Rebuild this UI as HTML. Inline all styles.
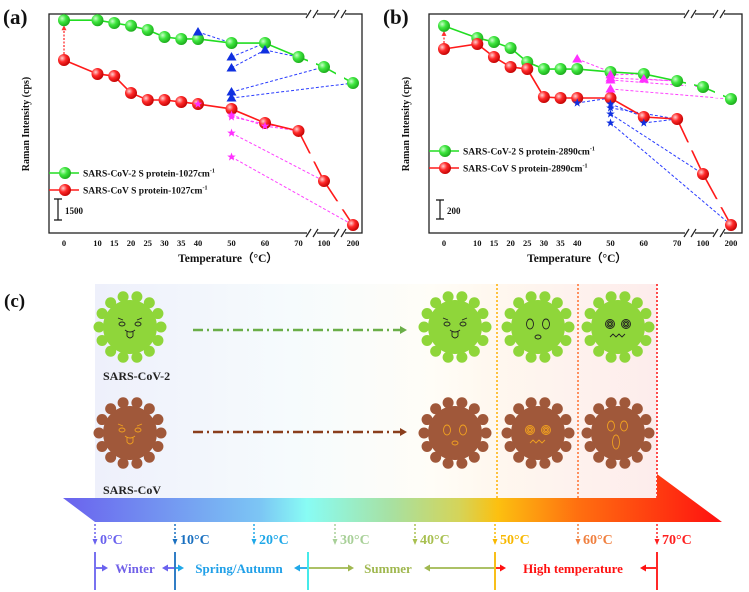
<!DOCTYPE html>
<html><head><meta charset="utf-8"><style>
html,body{margin:0;padding:0;background:#fff;}
svg{display:block;font-family:"Liberation Serif",serif;font-weight:bold;}
</style></head><body>
<svg id="fig" width="749" height="592" viewBox="0 0 749 592" xmlns="http://www.w3.org/2000/svg">
<defs>
<radialGradient id="gG" cx="0.35" cy="0.35" r="0.7"><stop offset="0" stop-color="#c8ffc8"/><stop offset="0.45" stop-color="#3ee63e"/><stop offset="1" stop-color="#1aa81a"/></radialGradient>
<radialGradient id="gR" cx="0.35" cy="0.35" r="0.7"><stop offset="0" stop-color="#ffd0d0"/><stop offset="0.45" stop-color="#ff2a2a"/><stop offset="1" stop-color="#c00000"/></radialGradient>
<linearGradient id="bgC" x1="0" x2="1" y1="0" y2="0">
<stop offset="0" stop-color="#eef0fb"/><stop offset="0.35" stop-color="#f6fbfd"/><stop offset="0.6" stop-color="#fffdf7"/><stop offset="0.7" stop-color="#fff8ef"/><stop offset="1" stop-color="#fdecec"/></linearGradient>
<linearGradient id="barG" x1="63" x2="722" y1="0" y2="0" gradientUnits="userSpaceOnUse">
<stop offset="0" stop-color="#6a62ee"/><stop offset="0.3" stop-color="#7cc6f4"/><stop offset="0.37" stop-color="#88fcf4"/><stop offset="0.5" stop-color="#a8e0a0"/><stop offset="0.6" stop-color="#d4d45a"/><stop offset="0.66" stop-color="#fcc010"/><stop offset="0.78" stop-color="#ff7010"/><stop offset="1" stop-color="#ff1010"/></linearGradient>
</defs>
<g id="panelA"></g>
<g id="panelB"></g>
<g id="panelC"></g>
</svg>
<script>
const NS="http://www.w3.org/2000/svg";
const temps=[0,10,15,20,25,30,35,40,50,60,70,100,200];
const tickLabels=["0","10","15","20","25","30","35","40","50","60","70","100","200"];
// panel (a) values (cps)
const aGreen=[15200,15200,15000,14800,14500,14000,13860,13860,13570,13570,12570,11860,10710];
const aRed=[12360,11360,11210,10000,9500,9500,9360,9210,8860,7860,7290,3710,570];
const aTriT=[40,50,50,50,50,60];
const aTriV=[14360,12570,11790,10070,9640,13070];
const aStarT=[40,50,50,50,50,60];
const aStarV=[9210,8430,8290,7140,5430,7640];
const aBlueLinks=[[40,14360,50,13570],[50,12570,60,13570],[50,11790,60,13070],[60,13070,70,12570],[50,10070,100,11860],[50,9640,200,10710]];
const aMagLinks=[[40,9210,50,8860],[50,8430,60,7640],[50,8290,70,7290],[60,7640,70,7290],[50,7140,100,3710],[50,5430,200,570]];
// panel (b) values (cps)
const bGreen=[2180,2053,2011,1947,1800,1726,1726,1726,1695,1674,1600,1537,1410];
const bRed=[1937,1990,1853,1747,1726,1432,1421,1421,1421,1221,1200,621,84];
const bTriT=[40,50,50,50,50,60];
const bTriV=[1832,1664,1632,1611,1516,1621];
const bStarT=[40,50,50,50,50,60];
const bStarV=[1369,1358,1316,1253,1158,1158];
const bMagLinks=[[40,1832,50,1695],[50,1664,60,1674],[50,1632,70,1600],[60,1621,70,1600],[50,1611,100,1537],[50,1516,200,1410]];
const bBlueLinks=[[40,1369,50,1421],[50,1358,60,1221],[50,1316,70,1200],[60,1158,70,1200],[50,1253,100,621],[50,1158,200,84]];

function mk(p,tag,at,txt){const e=document.createElementNS(NS,tag);for(const k in at)e.setAttribute(k,at[k]);if(txt!==undefined)e.textContent=txt;p.appendChild(e);return e;}

function panel(g,cfg){
  const xs=t=>t<=70?cfg.x0+t*cfg.k:(t===100?cfg.x100:cfg.x200);
  const ys=v=>233-v*cfg.ky;
  const L=cfg.left,R=cfg.right;
  let e=mk(g,'rect',{x:L,y:14,width:R-L,height:219,fill:'none',stroke:'#222','stroke-width':1.3});
  
  [cfg.br1,cfg.br2].forEach(bx=>{[14,233].forEach(by=>{
    mk(g,'rect',{x:bx-5,y:by-2,width:10,height:4,fill:'#fff'});
    e=mk(g,'path',{d:`M${bx-6} ${by+4}L${bx-1} ${by-4}M${bx+1} ${by+4}L${bx+6} ${by-4}`,stroke:'#222','stroke-width':1.2});
    
  });});
  temps.forEach((t,i)=>{
    e=mk(g,'text',{x:xs(t),y:246,'font-size':8.5,'text-anchor':'middle',fill:'#111'},tickLabels[i]);
    
  });
  e=mk(g,'text',{x:cfg.titleX,y:262,'font-size':11.5,'text-anchor':'middle',fill:'#111'},'Temperature（°C）');
  
  e=mk(g,'text',{x:0,y:0,'font-size':10,'text-anchor':'middle',fill:'#111',transform:`translate(${L-20},124) rotate(-90)`},'Raman Intensity (cps)');
  
  e=mk(g,'text',{x:L-46,y:24,'font-size':21,fill:'#111'},cfg.tag);
  
  e=mk(g,'path',{d:`M${xs(0)} ${ys(cfg.red[0])-6}L${xs(0)} ${ys(cfg.green[0])+7}`,stroke:'#ff3030','stroke-width':1.3,'stroke-dasharray':'2,1.5'});
  
  mk(g,'path',{d:`M${xs(0)-2.5} ${ys(cfg.green[0])+10}L${xs(0)} ${ys(cfg.green[0])+5}L${xs(0)+2.5} ${ys(cfg.green[0])+10}Z`,fill:'#ff3030'});
  function links(arr,col,nm){arr.forEach(l=>{e=mk(g,'line',{x1:xs(l[0]),y1:ys(l[1]),x2:xs(l[2]),y2:ys(l[3]),stroke:col,'stroke-width':1,'stroke-dasharray':'3,2'});
    });}
  links(cfg.l1,cfg.l1c,'dashed-link');links(cfg.l2,cfg.l2c,'dashed-link');
  function series(vals,col,grad,nm){
    const pts=vals.map((v,i)=>[xs(temps[i]),ys(v)]);
    e=mk(g,'polyline',{points:pts.map(p=>p.join(',')).join(' '),fill:'none',stroke:col,'stroke-width':1.6});
    
    [[10,11,cfg.br1],[11,12,cfg.br2]].forEach(([a,b,bx])=>{const [x1,y1]=pts[a],[x2,y2]=pts[b];const yy=y1+(y2-y1)*(bx-x1)/(x2-x1);
      mk(g,'rect',{x:bx-4,y:yy-4,width:8,height:8,fill:'#fff'});});
    pts.forEach(p=>{e=mk(g,'circle',{cx:p[0],cy:p[1],r:6,fill:`url(#${grad})`});
      });
  }
  series(cfg.green,'#22dd22','gG','green-series');
  series(cfg.red,'#ff1a1a','gR','red-series');
  function tri(x,y,c){return mk(g,'path',{d:`M${x} ${y-5}L${x+5} ${y+3.5}L${x-5} ${y+3.5}Z`,fill:c});}
  function star(x,y,c){let d='';for(let i=0;i<10;i++){const r=i%2?1.8:4.5,a=-Math.PI/2+i*Math.PI/5;d+=(i?'L':'M')+(x+r*Math.cos(a)).toFixed(1)+' '+(y+r*Math.sin(a)).toFixed(1);}return mk(g,'path',{d:d+'Z',fill:c});}
  cfg.triT.forEach((t,i)=>{e=tri(xs(t),ys(cfg.triV[i]),cfg.triC);});
  cfg.starT.forEach((t,i)=>{e=star(xs(t),ys(cfg.starV[i]),cfg.starC);});
  [[cfg.lg1y,'#22dd22','gG',cfg.lab1],[cfg.lg2y,'#ff1a1a','gR',cfg.lab2]].forEach(([y,c,gr,lab])=>{
    const lg=mk(g,'g',{});
    mk(lg,'line',{x1:L,y1:y,x2:L+30,y2:y,stroke:c,'stroke-width':1.6});
    mk(lg,'circle',{cx:L+16,cy:y,r:6,fill:`url(#${gr})`});
    const t=mk(lg,'text',{x:L+34,y:y+3.5,'font-size':9.5,fill:'#111'},lab[0]);
    mk(t,'tspan',{dy:-4,'font-size':6},'-1');
  });
  const sb=mk(g,'g',{});
  mk(sb,'path',{d:`M${cfg.sbx-4} ${cfg.sb1}H${cfg.sbx+4}M${cfg.sbx} ${cfg.sb1}V${cfg.sb2}M${cfg.sbx-4} ${cfg.sb2}H${cfg.sbx+4}`,stroke:'#111','stroke-width':1.2,fill:'none'});
  mk(sb,'text',{x:cfg.sbx+7,y:214,'font-size':9,fill:'#111'},cfg.sbl);
}
panel(document.getElementById('panelA'),{left:49,right:362,x0:64,k:3.35,x100:324,x200:353,br1:312,br2:340,ky:0.014,titleX:228,tag:'(a)',
  green:aGreen,red:aRed,l1:aBlueLinks,l1c:'#2a3cff',l2:aMagLinks,l2c:'#ff40ff',triT:aTriT,triV:aTriV,triC:'#1030e0',starT:aStarT,starV:aStarV,starC:'#ff30ff',
  lg1y:173,lg2y:190,lab1:['SARS-CoV-2 S protein-1027cm'],lab2:['SARS-CoV S protein-1027cm'],sbx:58,sb1:199,sb2:220,sbl:'1500'});
panel(document.getElementById('panelB'),{left:429,right:742,x0:444,k:3.33,x100:703,x200:731,br1:690,br2:719,ky:0.095,titleX:577,tag:'(b)',
  green:bGreen,red:bRed,l1:bMagLinks,l1c:'#ff40ff',l2:bBlueLinks,l2c:'#2a3cff',triT:bTriT,triV:bTriV,triC:'#ff30ff',starT:bStarT,starV:bStarV,starC:'#1030e0',
  lg1y:151,lg2y:168,lab1:['SARS-CoV-2 S protein-2890cm'],lab2:['SARS-CoV S protein-2890cm'],sbx:440,sb1:200,sb2:219,sbl:'200'});

const C=document.getElementById('panelC');
let e=mk(C,'rect',{x:95,y:284,width:562,height:214,fill:'url(#bgC)'});

e=mk(C,'text',{x:4,y:307,'font-size':19,fill:'#111'},'(c)');

[[497,'#ffb000'],[578,'#ff7030'],[657,'#ff1010']].forEach(([x,c])=>{e=mk(C,'line',{x1:x,y1:284,x2:x,y2:500,stroke:c,'stroke-width':1.5,'stroke-dasharray':'2,2'});
  });
function virus(cx,cy,col,face,fc,nm){
  const g=mk(C,'g',{});
  for(let i=0;i<14;i++){const a=i*2*Math.PI/14;
    mk(g,'line',{x1:cx,y1:cy,x2:cx+30*Math.cos(a),y2:cy+30*Math.sin(a),stroke:col,'stroke-width':4});
    mk(g,'ellipse',{cx:cx+31*Math.cos(a),cy:cy+31*Math.sin(a),rx:5.5,ry:5.5,fill:col});}
  mk(g,'circle',{cx,cy,r:27,fill:col});
  const s={stroke:fc,'stroke-width':0.9,fill:'none'};
  if(face===0){mk(g,'ellipse',Object.assign({cx:cx-8,cy:cy-3,rx:3,ry:2},s));mk(g,'ellipse',Object.assign({cx:cx+8,cy:cy-3,rx:3,ry:2},s));
    mk(g,'path',Object.assign({d:`M${cx-12} ${cy-9}l5 2M${cx+12} ${cy-9}l-5 2M${cx-5} ${cy+3}q5 4 10 0M${cx-3} ${cy+4}v5q3 4 6 0v-5`},s));}
  else if(face===1){mk(g,'ellipse',Object.assign({cx:cx-8,cy:cy-3,rx:3.5,ry:5},s));mk(g,'ellipse',Object.assign({cx:cx+8,cy:cy-3,rx:3.5,ry:5},s));
    mk(g,'ellipse',Object.assign({cx:cx,cy:cy+10,rx:3,ry:2},s));}
  else if(face===2){[-8,8].forEach(d=>{[1.5,3,4.5].forEach(r=>mk(g,'circle',Object.assign({cx:cx+d,cy:cy-3,r},s)));});
    mk(g,'path',Object.assign({d:`M${cx-8} ${cy+10}l3 -3l3 3l3 -3l3 3l3 -3`},s));}
  else {mk(g,'ellipse',Object.assign({cx:cx-7,cy:cy-7,rx:3.5,ry:5},s));mk(g,'ellipse',Object.assign({cx:cx+6,cy:cy-7,rx:3.5,ry:5},s));
    mk(g,'ellipse',Object.assign({cx:cx-2,cy:cy+9,rx:3.5,ry:7},s));}
}
virus(130,327,'#8fd63a',0,'#222','sars-cov-2-virus');
virus(455,327,'#8fd63a',0,'#222','sars-cov-2-virus');
virus(538,327,'#8fd63a',1,'#222','sars-cov-2-virus');
virus(618,327,'#8fd63a',2,'#222','sars-cov-2-virus');
virus(130,433,'#a0583a',0,'#f0a020','sars-cov-virus');
virus(455,433,'#a0583a',1,'#f0a020','sars-cov-virus');
virus(538,433,'#a0583a',2,'#f0a020','sars-cov-virus');
virus(618,433,'#a0583a',3,'#f0a020','sars-cov-virus');
[[330,'#6aae48'],[432,'#8a3e1c']].forEach(([y,c])=>{
  e=mk(C,'line',{x1:193,y1:y,x2:400,y2:y,stroke:c,'stroke-width':2.5,'stroke-dasharray':'10,4,2,4'});
  
  mk(C,'path',{d:`M400 ${y-4}L407 ${y}L400 ${y+4}Z`,fill:c});});
e=mk(C,'text',{x:103,y:380,'font-size':12,fill:'#222'},'SARS-CoV-2');
e=mk(C,'text',{x:103,y:494,'font-size':12,fill:'#222'},'SARS-CoV');
e=mk(C,'path',{d:'M63 498H657V474L722 522H95Z',fill:'url(#barG)'});

const tempTicks=[95,175,254,335,415,495,578,657];
const tempNames=['0°C','10°C','20°C','30°C','40°C','50°C','60°C','70°C'];
const tempCols=['#6a62ee','#1a70c0','#20a8e8','#a8d098','#a8c050','#f8b800','#f08040','#ff2020'];
tempTicks.forEach((x,i)=>{
  mk(C,'line',{x1:x,y1:524,x2:x,y2:541,stroke:tempCols[i],'stroke-width':1.5,'stroke-dasharray':'2,2'});
  mk(C,'path',{d:`M${x-2.5} 539L${x} 545L${x+2.5} 539Z`,fill:tempCols[i]});
  e=mk(C,'text',{x:x+5,y:544,'font-size':14,fill:tempCols[i]},tempNames[i]);
  });
[[95,'#6a62ee'],[175,'#1a70c0'],[308,'#30e8e8'],[495,'#f8b800'],[657,'#ff1010']].forEach(([x,c])=>{
  mk(C,'line',{x1:x,y1:552,x2:x,y2:590,stroke:c,'stroke-width':1.8});});
function seg(x1,x2,c){mk(C,'line',{x1,y1:568,x2,y2:568,stroke:c,'stroke-width':1.8});}
function ah(x,dir,c){mk(C,'path',{d:`M${x} 568l${-6*dir} -3.5v7Z`,fill:c});}
seg(96,104,'#6a62ee');ah(108,1,'#6a62ee');seg(166,174,'#6a62ee');ah(162,-1,'#6a62ee');
seg(176,180,'#20a8e8');ah(184,1,'#20a8e8');seg(298,307,'#20a8e8');ah(294,-1,'#20a8e8');
seg(309,348,'#a0b850');ah(354,1,'#a0b850');seg(428,494,'#a0b850');ah(424,-1,'#a0b850');
seg(496,500,'#ff1010');ah(506,1,'#ff1010');seg(646,656,'#ff1010');ah(640,-1,'#ff1010');
[[135,'Winter','#7060e8'],[239,'Spring/Autumn','#20a0e8'],[388,'Summer','#a0b850'],[573,'High temperature','#ff1010']].forEach(([x,t,c])=>{
  e=mk(C,'text',{x,y:573,'font-size':13,'text-anchor':'middle',fill:c},t);
  });
</script>
</body></html>
